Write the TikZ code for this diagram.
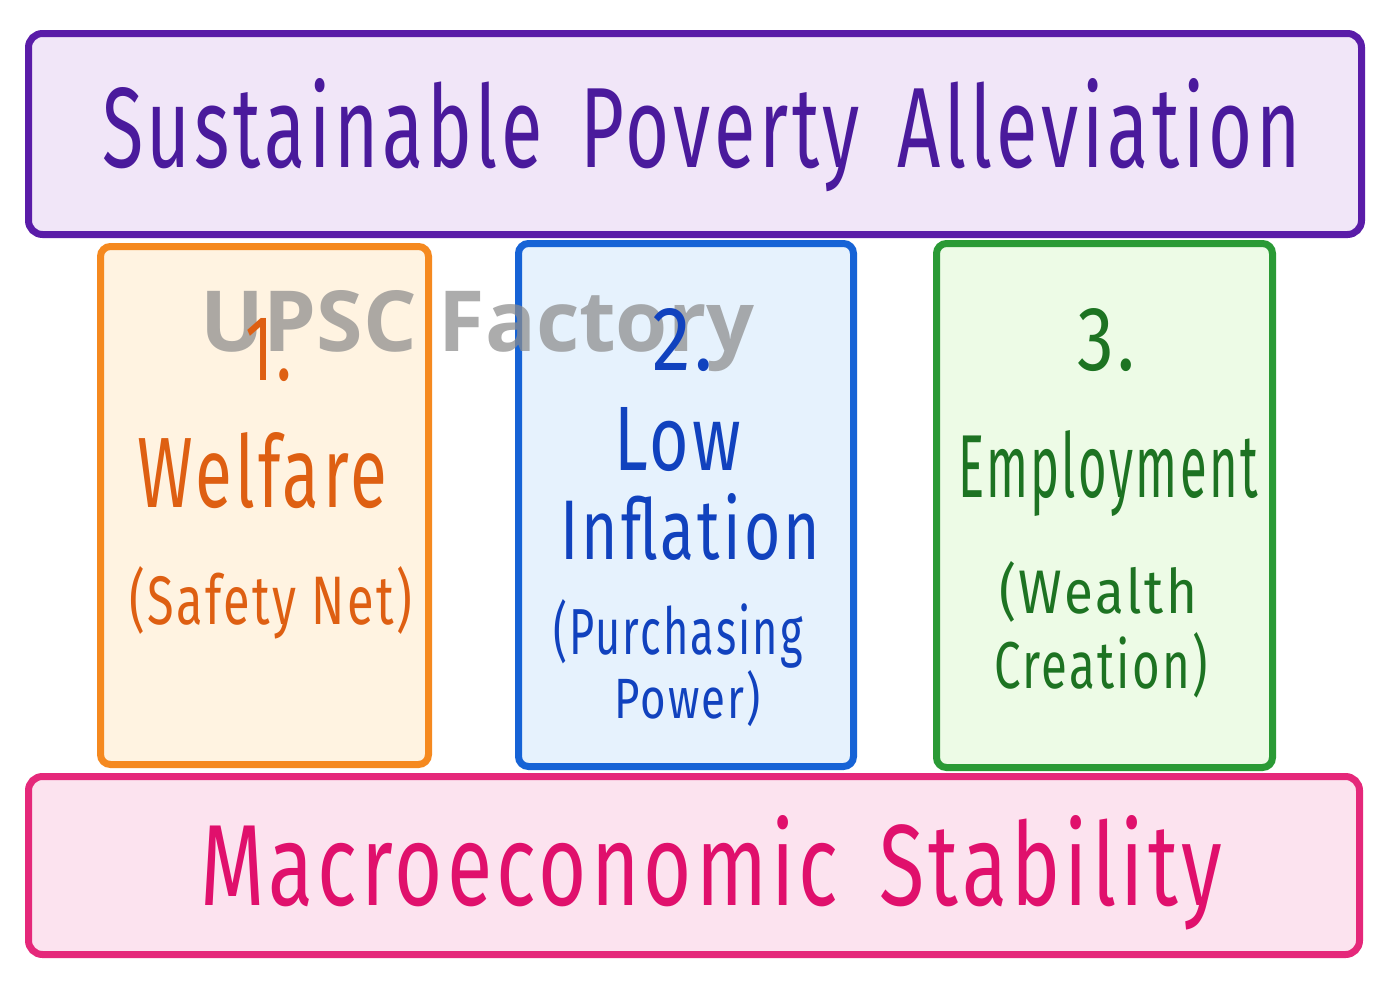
\documentclass[tikz,border=0pt]{standalone}
\usepackage{fontspec}
\usepackage{graphicx}
\setmainfont{Fira Sans}[LetterSpace=5]
\newfontfamily\wmfont{Open Sans}
\definecolor{topfill}{HTML}{F1E6F8}
\definecolor{topline}{HTML}{5A1CA8}
\definecolor{toptext}{HTML}{4A1A9C}
\definecolor{onefill}{HTML}{FFF3E1}
\definecolor{oneline}{HTML}{F5891F}
\definecolor{onetext}{HTML}{DE5F12}
\definecolor{twofill}{HTML}{E6F2FD}
\definecolor{twoline}{HTML}{1663D6}
\definecolor{twotext}{HTML}{1142BE}
\definecolor{thrfill}{HTML}{EDFBE6}
\definecolor{thrline}{HTML}{2A9A35}
\definecolor{thrtext}{HTML}{1D7322}
\definecolor{botfill}{HTML}{FCE3EF}
\definecolor{botline}{HTML}{E5287A}
\definecolor{bottext}{HTML}{E0106C}
\definecolor{wmgray}{HTML}{8C8C8C}
\newcommand\fitto[3]{\resizebox{#1pt}{#2pt}{#3}}
\tikzset{
  panel/.style={rounded corners=14pt, line width=7pt, inner sep=0pt},
  lbl/.style={inner sep=0pt, outer sep=0pt, anchor=base west},
}
\begin{document}
\begin{tikzpicture}[x=1pt,y=-1pt]
\useasboundingbox (0,0) rectangle (1389,986);
\fill[white] (0,0) rectangle (1389,986);
% panels
\node[panel, draw=topline, fill=topfill, minimum width=1333pt, minimum height=201pt] (top) at (695,134) {};
\node[panel, draw=oneline, fill=onefill, minimum width=328pt, minimum height=518pt, rounded corners=10pt] (b1) at (264.5,505.5) {};
\node[panel, draw=twoline, fill=twofill, minimum width=335pt, minimum height=523pt, rounded corners=10pt] (b2) at (686,505) {};
\node[panel, draw=thrline, fill=thrfill, minimum width=336pt, minimum height=524pt, rounded corners=10pt] (b3) at (1104.5,505.5) {};
\node[panel, draw=botline, fill=botfill, minimum width=1331pt, minimum height=178pt] (bot) at (694,865.5) {};
% watermark
\node[lbl, text=wmgray, opacity=0.72] (wm) at (200,351) {\fitto{554}{61}{\wmfont\bfseries UPSC Factory}};
% title
\node[lbl, text=toptext] (title) at (102,167) {\fitto{1198}{89}{Sustainable\hspace{0.5em}Poverty\hspace{0.5em}Alleviation}};
% pillar 1
\node[lbl, text=onetext] (n1) at (245,380) {\fitto{47}{62}{1.}};
\node[lbl, text=onetext] (w1) at (137,507) {\fitto{250}{75}{Welfare}};
\node[lbl, text=onetext] (s1) at (129,624) {\fitto{283}{58}{(Safety Net)}};
% pillar 2
\node[lbl, text=twotext] (n2) at (652,370) {\fitto{61}{62}{2.}};
\node[lbl, text=twotext] (l2) at (614,470) {\fitto{127}{63}{Low}};
\node[lbl, text=twotext] (i2) at (560,559) {\fitto{260}{66}{Inflation}};
\node[lbl, text=twotext] (p2) at (553,654) {\fitto{250}{55}{(Purchasing}};
\node[lbl, text=twotext] (q2) at (614,718) {\fitto{147}{48}{Power)}};
% pillar 3
\node[lbl, text=thrtext] (n3) at (1077,370) {\fitto{58}{62}{3.}};
\node[lbl, text=thrtext] (e3) at (958,497) {\fitto{300}{67}{Employment}};
\node[lbl, text=thrtext] (d3) at (999,613) {\fitto{198}{52}{(Wealth}};
\node[lbl, text=thrtext] (c3) at (994,688) {\fitto{214}{56}{Creation)}};
% bottom
\node[lbl, text=bottext] (mac) at (200,905) {\fitto{1022}{90}{Macroeconomic\hspace{0.5em}Stability}};
\end{tikzpicture}
\end{document}
